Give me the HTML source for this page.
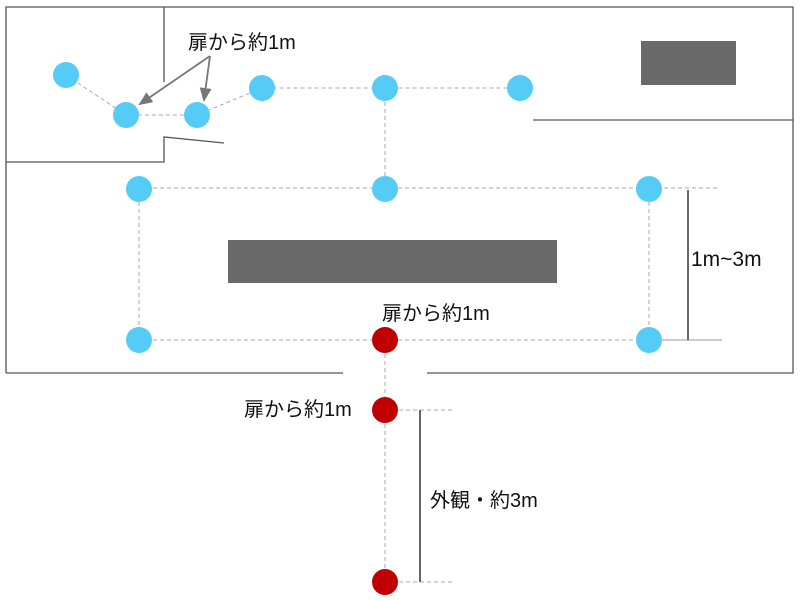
<!DOCTYPE html>
<html><head><meta charset="utf-8"><style>body{margin:0;background:#fff}svg{display:block}</style></head>
<body>
<svg width="801" height="601" xmlns="http://www.w3.org/2000/svg" font-family="Liberation Sans, Noto Sans CJK JP, sans-serif">
<defs>
<marker id="b" markerWidth="14" markerHeight="12" refX="12" refY="6" orient="auto" markerUnits="userSpaceOnUse"><path d="M0,0 L14,6 L0,12 z" fill="#777"/></marker></defs>
<g stroke="#555" stroke-width="1.3" fill="none">
<polyline points="6,373 6,7 793,7 793,373 427,373"/>
<line x1="6" y1="373" x2="343" y2="373"/>
<polyline points="6,162 164,162 164,137 224,143"/>
<line x1="164" y1="7" x2="164" y2="82"/>
<line x1="533" y1="120" x2="793" y2="120"/>
</g>
<rect x="641" y="41" width="95" height="44" fill="#6a6a6a"/>
<rect x="228" y="240" width="329" height="43" fill="#6a6a6a"/>
<g stroke="#aaa" stroke-width="1" stroke-dasharray="4,3" fill="none">
<polyline points="66,75 126,115 197,115 262,88 520,88"/>
<line x1="385" y1="88" x2="385" y2="188"/>
<line x1="139" y1="188" x2="720" y2="188"/>
<line x1="139" y1="340" x2="640" y2="340"/>
<line x1="139" y1="188" x2="139" y2="340"/>
<line x1="649" y1="188" x2="649" y2="340"/>
<line x1="385" y1="340" x2="385" y2="582"/>
<line x1="385" y1="410" x2="455" y2="410"/>
<line x1="385" y1="582" x2="455" y2="582"/>
</g>
<line x1="660" y1="340" x2="722" y2="340" stroke="#999" stroke-width="1"/>
<line x1="688" y1="190" x2="688" y2="340" stroke="#666" stroke-width="2"/>
<line x1="420" y1="410" x2="420" y2="582" stroke="#666" stroke-width="2"/>
<g stroke="#777" stroke-width="1.8">
<line x1="210" y1="56" x2="140" y2="104" marker-end="url(#b)"/>
<line x1="210" y1="56" x2="204" y2="100" marker-end="url(#b)"/>
</g>
<g fill="#55ccf5">
<circle cx="66" cy="75" r="13"/><circle cx="126" cy="115" r="13"/><circle cx="197" cy="115" r="13"/>
<circle cx="262" cy="88" r="13"/><circle cx="385" cy="88" r="13"/><circle cx="520" cy="88" r="13"/>
<circle cx="139" cy="189" r="13"/><circle cx="385" cy="189" r="13"/><circle cx="649" cy="189" r="13"/>
<circle cx="139" cy="340" r="13"/><circle cx="649" cy="340" r="13"/>
</g>
<g fill="#c00000">
<circle cx="385" cy="340" r="13"/><circle cx="385" cy="410" r="13"/><circle cx="385" cy="582" r="13"/>
</g>
<g font-size="20" fill="#111">
<text x="188" y="49">扉から約1m</text>
<text x="382" y="320">扉から約1m</text>
<text x="244" y="416">扉から約1m</text>
<text x="691" y="266" font-size="21">1m~3m</text>
<text x="430" y="507">外観・約3m</text>
</g>
</svg>
</body></html>
